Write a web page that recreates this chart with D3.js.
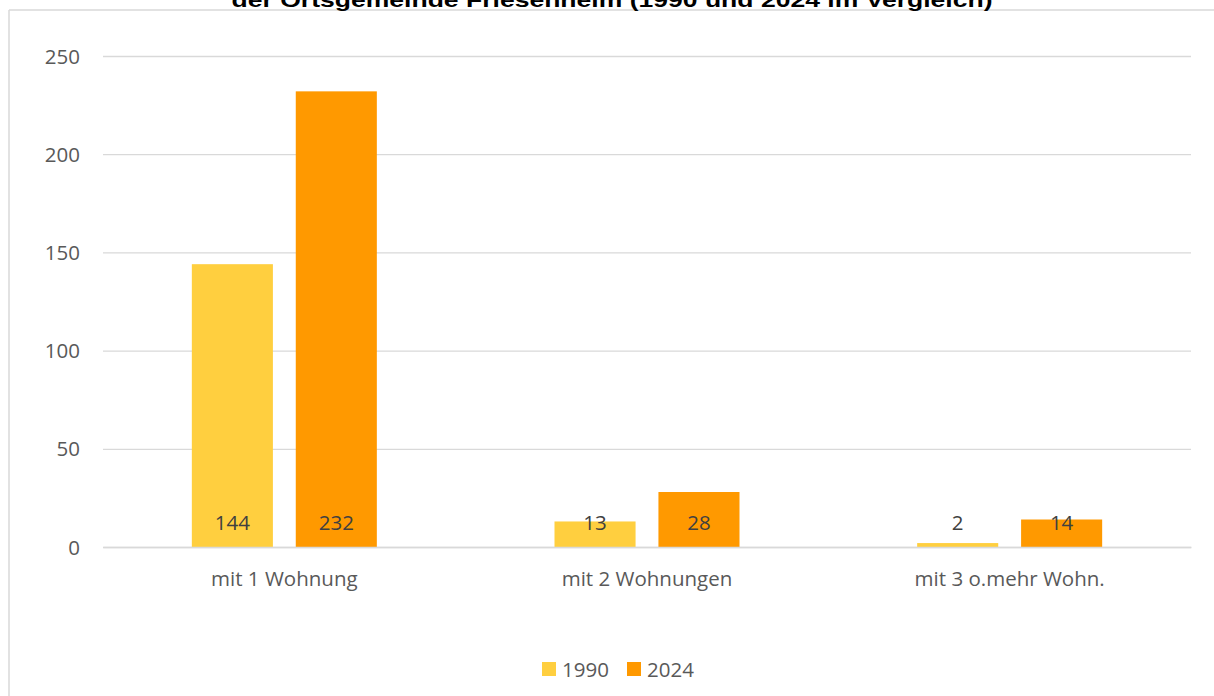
<!DOCTYPE html>
<html><head><meta charset="utf-8">
<script src="https://cdn.jsdelivr.net/npm/d3@7"></script>
<style>html,body{margin:0;padding:0;background:#fff;overflow:hidden}</style>
</head><body>
<svg id="c" width="1214" height="696"></svg>
<script>
const titleText = "der Ortsgemeinde Friesenheim (1990 und 2024 im Vergleich)";
const categories = ["mit 1 Wohnung", "mit 2 Wohnungen", "mit 3 o.mehr Wohn."];
const seriesNames = ["1990", "2024"];
const values1990 = [144, 13, 2];
const values2024 = [232, 28, 14];
const yTicks = [0, 50, 100, 150, 200, 250];
const colors = ["#FFCF3F", "#FF9900"];

(function () {
const svg = d3.select("#c");
const font = "'Open Sans', Lato, sans-serif";
const fs = 20.5;
const pLeft = 103, pRight = 1191, pTop = 56, pBottom = 547;

// frame (only top and left visible)
svg.append("line").attr("x1", 9).attr("x2", 1214).attr("y1", 10).attr("y2", 10).attr("stroke", "#d9d9d9").attr("stroke-width", 1.5);
svg.append("line").attr("x1", 9).attr("x2", 9).attr("y1", 10).attr("y2", 696).attr("stroke", "#d9d9d9").attr("stroke-width", 1.5);

// title
const t = svg.append("text").attr("x", 612).attr("y", 6.5).attr("text-anchor", "middle")
  .attr("font-family", "'Liberation Sans', Arial, sans-serif").attr("font-weight", "bold")
  .attr("font-size", 19.5).attr("fill", "#000").text(titleText);
t.attr("textLength", 761).attr("lengthAdjust", "spacingAndGlyphs");

const y = d3.scaleLinear().domain([0, 250]).range([pBottom, pTop]);
const x0 = d3.scaleBand().domain(categories).range([pLeft, pRight]).paddingInner(0).paddingOuter(0);
const x1 = d3.scaleBand().domain(seriesNames).range([0, 185]).paddingInner(0.22);

// gridlines
const yAxis = d3.axisLeft(y).tickValues(yTicks).tickSize(-(pRight - pLeft));
const ga = svg.append("g").attr("transform", `translate(${pLeft},0)`).call(yAxis);
ga.select(".domain").remove();
ga.selectAll(".tick line").attr("stroke", "#d9d9d9").attr("stroke-width", 1.3);
ga.selectAll(".tick text").attr("font-family", font).attr("font-size", fs).attr("fill", "#595959")
  .attr("text-anchor", "end").attr("x", -23).attr("dy", null).attr("y", 7);

// bars
const data = categories.map((c, i) => ({cat: c, vals: [
  {s: seriesNames[0], v: values1990[i], col: colors[0]},
  {s: seriesNames[1], v: values2024[i], col: colors[1]}]}));
const groups = svg.append("g").selectAll("g").data(data).join("g")
  .attr("transform", d => `translate(${x0(d.cat) + (x0.bandwidth() - 185) / 2},0)`);
groups.selectAll("rect").data(d => d.vals).join("rect")
  .attr("x", d => x1(d.s)).attr("width", x1.bandwidth())
  .attr("y", d => y(d.v)).attr("height", d => y(0) - y(d.v)).attr("fill", d => d.col);
groups.selectAll("text").data(d => d.vals).join("text")
  .attr("x", d => x1(d.s) + x1.bandwidth() / 2).attr("y", y(0) - 17)
  .attr("text-anchor", "middle").attr("font-family", font).attr("font-size", fs)
  .attr("fill", "#404040").text(d => d.v);

// x axis
const xAxis = d3.axisBottom(x0).tickSize(0);
const gx = svg.append("g").attr("transform", `translate(0,${pBottom})`).call(xAxis);
gx.select(".domain").attr("stroke", "#d9d9d9").attr("stroke-width", 1.3);
gx.selectAll(".tick text").attr("font-family", font).attr("font-size", fs).attr("fill", "#595959")
  .attr("dy", null).attr("y", 39);

// legend
const leg = svg.append("g");
const legX = [542, 627];
seriesNames.forEach((s, i) => {
  leg.append("rect").attr("x", legX[i]).attr("y", 662).attr("width", 14).attr("height", 14).attr("fill", colors[i]);
  leg.append("text").attr("x", legX[i] + 20).attr("y", 677).attr("font-family", font).attr("font-size", fs)
    .attr("fill", "#595959").text(s);
});
})();
</script>
</body></html>
